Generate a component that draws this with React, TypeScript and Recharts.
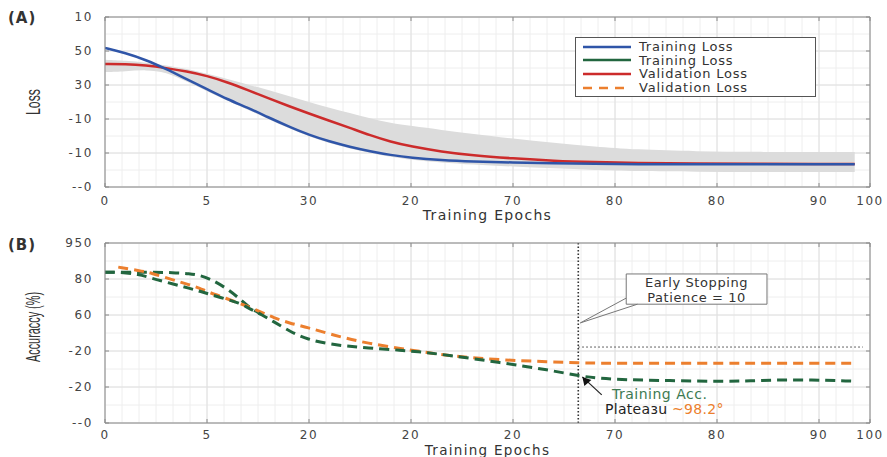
import React from 'react';
import {
  ComposedChart, Line, Area, XAxis, YAxis, CartesianGrid, ReferenceLine, ReferenceArea, ReferenceDot, Legend,
} from 'recharts';

// axis ticks (the labels are printed as they appear on the source figure)
const xTicks = [0, 10, 20, 30, 40, 50, 60, 70, 75];
const xLabelsA = ['0', '5', '30', '20', '70', '80', '80', '90', '100'];
const xLabelsB = ['0', '5', '20', '20', '20', '70', '80', '90', '100'];
const yTicks = [0, 1, 2, 3, 4, 5];
const yLabelsA = ['--0', '-10', '-10', '30', '50', '10'];
const yLabelsB = ['--0', '-20', '-20', '60', '80', '950'];

// panel A - loss curves
const lossEpochs = [0, 2, 4, 6, 8, 10, 12, 14, 16, 18, 20, 22, 24, 26, 28, 30, 33, 36, 40, 44, 48, 52, 58, 64, 70, 73.5];
const trainLoss = [4.09, 3.94, 3.74, 3.47, 3.17, 2.88, 2.58, 2.33, 2.05, 1.78, 1.53, 1.34, 1.18, 1.05, 0.94, 0.86, 0.79, 0.75, 0.72, 0.7, 0.68, 0.67, 0.67, 0.67, 0.67, 0.67];
const valLoss = [3.62, 3.62, 3.58, 3.5, 3.4, 3.27, 3.08, 2.85, 2.61, 2.38, 2.16, 1.95, 1.74, 1.52, 1.33, 1.19, 1.04, 0.93, 0.84, 0.77, 0.73, 0.7, 0.69, 0.68, 0.68, 0.68];
const bandLow = [3.38, 3.4, 3.45, 3.38, 3.1, 2.82, 2.53, 2.28, 2.0, 1.73, 1.48, 1.29, 1.13, 1.0, 0.89, 0.8, 0.72, 0.66, 0.6, 0.55, 0.5, 0.47, 0.45, 0.44, 0.44, 0.44];
const bandHigh = [3.74, 3.72, 3.66, 3.58, 3.48, 3.33, 3.18, 3.02, 2.85, 2.68, 2.5, 2.33, 2.18, 2.02, 1.88, 1.8, 1.68, 1.56, 1.42, 1.3, 1.19, 1.1, 1.05, 1.03, 1.03, 1.03];

// panel B - accuracy curves
const accEpochs = [0, 1.3, 3.4, 4.4, 6.7, 8.3, 9.3, 10.2, 11.9, 13.2, 13.9, 14.4, 15.3, 16.5, 18.1, 19.8, 22.4, 25.7, 29.9, 33.8, 38.7, 43.6, 46.6, 48.5, 51, 55, 61.3, 64, 68.1, 73.5];
const trainAcc = [4.19, 4.19, 4.13, 4.03, 3.86, 3.74, 3.66, 3.58, 3.44, 3.33, 3.22, 3.14, 3.02, 2.82, 2.55, 2.32, 2.17, 2.08, 2.01, 1.88, 1.68, 1.47, 1.3, 1.24, 1.2, 1.18, 1.15, 1.18, 1.21, 1.16];
const trainAccEarly = [4.19, 4.19, 4.19, 4.19, 4.18, 4.15, 4.1, 4.02, 3.75, 3.45, 3.28, 3.17, 3.02, null, null, null, null, null, null, null, null, null, null, null, null, null, null, null, null, null];
const valAcc = [null, 4.33, 4.23, 4.18, 3.97, 3.84, 3.74, 3.63, 3.46, 3.32, 3.25, 3.19, 3.08, 2.93, 2.77, 2.66, 2.44, 2.21, 2.03, 1.86, 1.75, 1.7, 1.67, 1.66, 1.66, 1.66, 1.66, 1.66, 1.66, 1.66];

const stopEpoch = 46.4;
const patienceLevel = 2.11;

const legendItems = [
  { name: 'Training Loss', color: '#2f55a8', dashed: false },
  { name: 'Training Loss', color: '#22663f', dashed: false },
  { name: 'Validation Loss', color: '#cc2b2b', dashed: false },
  { name: 'Validation Loss', color: '#ec7f2e', dashed: true },
];

const lossData = lossEpochs.map((e, i) => ({
  epoch: e, train: trainLoss[i], val: valLoss[i], band: [bandLow[i], bandHigh[i]],
}));
const accData = accEpochs.map((e, i) => ({
  epoch: e, train: trainAcc[i], early: trainAccEarly[i], val: valAcc[i],
}));

const FONT = 'DejaVu Sans, sans-serif';
const tickStyle = { fontSize: 12, fill: '#444', fontFamily: FONT, letterSpacing: 1.6 };
const AXIS = '#8a8a8a';

const blankTick = () => <g />;

const minorV = ({ offset }: any) => Array.from({ length: 46 }, (_, k) => offset.left + (offset.width * k) / 45);
const minorH = ({ offset }: any) => Array.from({ length: 11 }, (_, k) => offset.top + (offset.height * k) / 10);

const YTitle = ({ viewBox, text, len, shift = 0 }: any) => {
  const cx = 33;
  const cy = viewBox.y + viewBox.height / 2 + shift;
  return (
    <text x={cx} y={cy} transform={`rotate(-90 ${cx} ${cy})`} textAnchor="middle" dominantBaseline="central"
      fontFamily="Liberation Sans Narrow, sans-serif" fontSize={20} fill="#333"
      textLength={len} lengthAdjust="spacingAndGlyphs">{text}</text>
  );
};

const XTitle = ({ viewBox, baseline, size = 14 }: any) => (
  <text x={viewBox.x + viewBox.width / 2} y={baseline} textAnchor="middle" fontFamily={FONT}
    fontSize={size} fill="#333" letterSpacing={1.3}>Training Epochs</text>
);

const LegendBox = () => (
  <div style={{ border: '1px solid #555', background: '#fff', width: 241, padding: '2px 0', boxSizing: 'border-box' }}>
    {legendItems.map((it, i) => (
      <div key={i} style={{ display: 'flex', alignItems: 'center', height: 13.6 }}>
        <svg width={56} height={8} style={{ marginLeft: 7 }}>
          <line x1={0} y1={4} x2={48} y2={4} stroke={it.color} strokeWidth={2.5}
            strokeDasharray={it.dashed ? '9 7' : undefined} />
        </svg>
        <span style={{ fontFamily: FONT, fontSize: 13, color: '#333', letterSpacing: 0.8 }}>{it.name}</span>
      </div>
    ))}
  </div>
);

const CalloutText = ({ viewBox }: any) => {
  const cx = viewBox.x + viewBox.width / 2;
  return (
    <text textAnchor="middle" fontFamily={FONT} fontSize={13} fill="#333" letterSpacing={0.6}>
      <tspan x={cx} y={viewBox.y + 13}>Early Stopping</tspan>
      <tspan x={cx} y={viewBox.y + 28}>Patience = 10</tspan>
    </text>
  );
};

const ArrowHead = ({ cx, cy }: any) => (
  <polygon points={`${cx},${cy} ${cx + 2},${cy + 9} ${cx + 9},${cy + 3}`} fill="#111" />
);

const panelTag: React.CSSProperties = {
  position: 'absolute', left: 8, fontFamily: FONT, fontWeight: 600, fontSize: 15, color: '#333', letterSpacing: 1,
};

export default function App() {
  return (
    <div style={{ position: 'absolute', left: 0, top: 0, width: 887, height: 457, background: '#fff', overflow: 'hidden' }}>
      <div style={{ position: 'absolute', left: 0, top: 0 }}>
        <ComposedChart width={887} height={230} data={lossData} margin={{ top: 0, right: 0, bottom: 0, left: 0 }}>
          <CartesianGrid stroke="#eeeeee" verticalCoordinatesGenerator={minorV} horizontalCoordinatesGenerator={minorH} />
          <CartesianGrid stroke="#e0e0e0" />
          <XAxis dataKey="epoch" type="number" domain={[0, 75]} ticks={xTicks} interval={0} allowDataOverflow
            height={43} tickSize={-4} tickMargin={13} stroke={AXIS} tick={tickStyle}
            tickFormatter={(v: number) => xLabelsA[xTicks.indexOf(v)]}
            label={<XTitle baseline={220} />} />
          <XAxis xAxisId="top" orientation="top" dataKey="epoch" type="number" domain={[0, 75]} ticks={xTicks}
            interval={0} allowDataOverflow height={17} tickSize={-4} stroke={AXIS} tick={blankTick} />
          <YAxis type="number" domain={[0, 5]} ticks={yTicks} interval={0} allowDataOverflow width={105}
            tickSize={-4} tickMargin={16} stroke={AXIS} tick={tickStyle}
            tickFormatter={(v: number) => yLabelsA[yTicks.indexOf(v)]}
            label={<YTitle text="Loss" len={26} />} />
          <YAxis yAxisId="right" orientation="right" type="number" domain={[0, 5]} ticks={yTicks} interval={0}
            allowDataOverflow width={17} tickSize={-4} stroke={AXIS} tick={blankTick} />
          <Area dataKey="band" type="basis" stroke="none" fill="#dcdcdc" fillOpacity={1} isAnimationActive={false} />
          <Line dataKey="val" type="basis" stroke="#cc2b2b" strokeWidth={2.5} dot={false} isAnimationActive={false} />
          <Line dataKey="train" type="basis" stroke="#2f55a8" strokeWidth={2.5} dot={false} isAnimationActive={false} />
          <Legend layout="vertical" align="center" verticalAlign="middle" content={<LegendBox />}
            wrapperStyle={{ top: 37, left: 575, width: 243 }} />
        </ComposedChart>
      </div>

      <div style={{ position: 'absolute', left: 0, top: 230 }}>
        <ComposedChart width={887} height={227} data={accData} margin={{ top: 0, right: 0, bottom: 0, left: 0 }}>
          <CartesianGrid stroke="#eeeeee" verticalCoordinatesGenerator={minorV} horizontalCoordinatesGenerator={minorH} />
          <CartesianGrid stroke="#e0e0e0" />
          <XAxis dataKey="epoch" type="number" domain={[0, 75]} ticks={xTicks} interval={0} allowDataOverflow
            height={34} tickSize={-4} tickMargin={11} stroke={AXIS} tick={tickStyle}
            tickFormatter={(v: number) => xLabelsB[xTicks.indexOf(v)]}
            label={<XTitle baseline={225} size={13.5} />} />
          <XAxis xAxisId="top" orientation="top" dataKey="epoch" type="number" domain={[0, 75]} ticks={xTicks}
            interval={0} allowDataOverflow height={13} tickSize={-4} stroke={AXIS} tick={blankTick} />
          <YAxis type="number" domain={[0, 5]} ticks={yTicks} interval={0} allowDataOverflow width={105}
            tickSize={-4} tickMargin={16} stroke={AXIS} tick={tickStyle}
            tickFormatter={(v: number) => yLabelsB[yTicks.indexOf(v)]}
            label={<YTitle text="Accuraccy (%)" len={70} shift={-6} />} />
          <YAxis yAxisId="right" orientation="right" type="number" domain={[0, 5]} ticks={yTicks} interval={0}
            allowDataOverflow width={17} tickSize={-4} stroke={AXIS} tick={blankTick} />
          <ReferenceLine x={stopEpoch} stroke="#333" strokeWidth={1.6} strokeDasharray="1.5 2" />
          <ReferenceLine segment={[{ x: stopEpoch, y: patienceLevel }, { x: 74.3, y: patienceLevel }]}
            stroke="#333" strokeDasharray="1.5 2.5" />
          <Line dataKey="early" type="basis" stroke="#22663f" strokeWidth={3} strokeDasharray="10 6"
            dot={false} connectNulls={false} isAnimationActive={false} />
          <Line dataKey="val" type="basis" stroke="#ec7f2e" strokeWidth={3} strokeDasharray="10 6"
            dot={false} connectNulls isAnimationActive={false} />
          <Line dataKey="train" type="basis" stroke="#22663f" strokeWidth={3} strokeDasharray="10 6"
            dot={false} isAnimationActive={false} />
          <ReferenceLine segment={[{ x: 51.1, y: 3.47 }, { x: 46.6, y: 2.78 }]} stroke="#777" />
          <ReferenceLine segment={[{ x: 52.2, y: 3.3 }, { x: 46.6, y: 2.78 }]} stroke="#777" />
          <ReferenceArea x1={51.1} x2={64.9} y1={3.3} y2={4.14} fill="#fff" fillOpacity={1} stroke="#777"
            label={<CalloutText />} />
          <ReferenceLine segment={[{ x: 48.7, y: 0.78 }, { x: 46.8, y: 1.28 }]} stroke="#222" strokeWidth={1.2} />
          <ReferenceDot x={46.8} y={1.28} r={4} shape={<ArrowHead />} />
        </ComposedChart>
      </div>

      <div style={{ ...panelTag, top: 9 }}>(A)</div>
      <div style={{ ...panelTag, top: 236 }}>(B)</div>

      <div style={{ position: 'absolute', left: 612, top: 386, fontFamily: FONT, fontSize: 14, color: '#3d7a52', letterSpacing: 0.5 }}>
        Training Acc.
      </div>
      <div style={{ position: 'absolute', left: 605, top: 401, fontFamily: FONT, fontSize: 14, color: '#222', letterSpacing: 0.3, whiteSpace: 'nowrap' }}>
        Plateaзu <span style={{ color: '#ec7f2e' }}>~98.2°</span>
      </div>
    </div>
  );
}
